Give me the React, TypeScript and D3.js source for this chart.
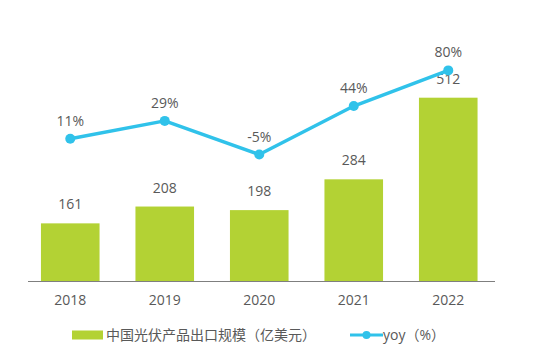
import React, { useEffect, useRef } from "react";
import * as d3 from "d3";

const years = ["2018", "2019", "2020", "2021", "2022"];
const exportValues = [161, 208, 198, 284, 512];
const yoyValues = [11, 29, -5, 44, 80];
const barLegend = "中国光伏产品出口规模（亿美元）";
const lineLegend = "yoy（%）";

const GREEN = "#b3d234";
const CYAN = "#30c2ea";
const TEXT = "#595959";
const FONT = "'Open Sans', 'Noto Sans CJK SC', sans-serif";

export default function App() {
  const svgRef = useRef<SVGSVGElement>(null);

  useEffect(() => {
    if (!svgRef.current) return;
    document.body.style.margin = "0";
    const svg = d3.select(svgRef.current);
    svg.selectAll("*").remove();

    const width = 549;
    const height = 354;
    const baseline = 281;

    const x = d3.scaleBand<string>().domain(years).range([23, 495.5]).paddingInner(0.38).paddingOuter(0.19);
    const y = d3.scaleLinear().domain([0, 512]).range([baseline, 97.7]);
    const y2 = d3.scaleLinear().domain([0, 100]).range([149.6, 50.6]);

    svg.attr("width", width).attr("height", height);
    svg.append("rect").attr("width", width).attr("height", height).attr("fill", "#fff");

    // bars
    svg.append("g")
      .selectAll("rect")
      .data(years)
      .join("rect")
      .attr("x", d => x(d)!)
      .attr("width", x.bandwidth())
      .attr("y", (d, i) => y(exportValues[i]))
      .attr("height", (d, i) => baseline - y(exportValues[i]))
      .attr("fill", GREEN);

    // bar value labels
    svg.append("g")
      .selectAll("text")
      .data(years)
      .join("text")
      .attr("x", d => x(d)! + x.bandwidth() / 2)
      .attr("y", (d, i) => y(exportValues[i]) - 14)
      .attr("text-anchor", "middle")
      .attr("fill", TEXT)
      .style("font-family", FONT)
      .style("font-size", "14px")
      .text((d, i) => exportValues[i]);

    // x axis
    svg.append("line")
      .attr("x1", 28).attr("x2", 495)
      .attr("y1", baseline + 0.5).attr("y2", baseline + 0.5)
      .attr("stroke", "#7f7f7f").attr("stroke-width", 1);

    svg.append("g")
      .selectAll("text")
      .data(years)
      .join("text")
      .attr("x", d => x(d)! + x.bandwidth() / 2)
      .attr("y", 305)
      .attr("text-anchor", "middle")
      .attr("fill", TEXT)
      .style("font-family", FONT)
      .style("font-size", "14px")
      .text(d => d);

    // yoy line
    const line = d3.line<number>()
      .x((d, i) => x(years[i])! + x.bandwidth() / 2)
      .y(d => y2(d));

    svg.append("path")
      .datum(yoyValues)
      .attr("fill", "none")
      .attr("stroke", CYAN)
      .attr("stroke-width", 3.5)
      .attr("stroke-linejoin", "round")
      .attr("d", line);

    svg.append("g")
      .selectAll("circle")
      .data(yoyValues)
      .join("circle")
      .attr("cx", (d, i) => x(years[i])! + x.bandwidth() / 2)
      .attr("cy", d => y2(d))
      .attr("r", 5)
      .attr("fill", CYAN);

    svg.append("g")
      .selectAll("text")
      .data(yoyValues)
      .join("text")
      .attr("x", (d, i) => x(years[i])! + x.bandwidth() / 2)
      .attr("y", d => y2(d) - 13)
      .attr("text-anchor", "middle")
      .attr("fill", TEXT)
      .style("font-family", FONT)
      .style("font-size", "14px")
      .text(d => `${d}%`);

    // legend
    const legend = svg.append("g").attr("transform", "translate(0,335)");
    legend.append("rect")
      .attr("x", 72).attr("y", -4.5)
      .attr("width", 31).attr("height", 9)
      .attr("fill", GREEN);
    legend.append("text")
      .attr("x", 106).attr("y", 5)
      .attr("fill", TEXT)
      .style("font-family", FONT)
      .style("font-size", "14px")
      .text(barLegend);

    legend.append("line")
      .attr("x1", 350).attr("x2", 383)
      .attr("y1", 0).attr("y2", 0)
      .attr("stroke", CYAN).attr("stroke-width", 3);
    legend.append("circle")
      .attr("cx", 366.5).attr("cy", 0).attr("r", 4)
      .attr("fill", CYAN);
    legend.append("text")
      .attr("x", 383).attr("y", 5)
      .attr("fill", TEXT)
      .style("font-family", FONT)
      .style("font-size", "14px")
      .text(lineLegend);
  }, []);

  return <svg ref={svgRef} style={{ display: "block" }} />;
}
